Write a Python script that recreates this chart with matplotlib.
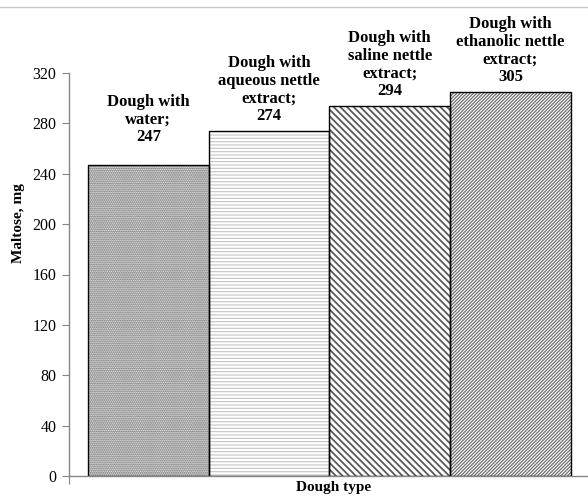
"""Maltose content in dough samples - bar chart with hatched bars."""

import matplotlib

matplotlib.use("Agg")
import matplotlib.pyplot as plt
from matplotlib.lines import Line2D

# data
categorias = [
    "Dough with\nwater;",
    "Dough with\naqueous nettle\nextract;",
    "Dough with\nsaline nettle\nextract;",
    "Dough with\nethanolic nettle\nextract;",
]
maltose = [247, 274, 294, 305]
y_ticks = [0, 40, 80, 120, 160, 200, 240, 280, 320]

# estilo de cada barra
hachuras = ["........", "-----", "\\" * 5, "/" * 10]
cores_hachura = ["#505050", "#c4c4c4", "#5a5a5a", "#707070"]
larguras_hachura = [1.0, 0.8, 1.3, 0.9]
deslocamento_rotulo = [14, 4.7, 4.7, 4.7]

plt.rcParams["font.family"] = ["Liberation Serif", "DejaVu Serif"]

fig = plt.figure(figsize=(5.88, 4.96), dpi=100)
ax = fig.add_axes([69 / 588, 1 - 476 / 496, 1 - 69 / 588, (476 - 73) / 496])

x = list(range(len(maltose)))
for i, valor in enumerate(maltose):
    plt.rcParams["hatch.linewidth"] = larguras_hachura[i]
    ax.bar(x[i], valor, width=1.0, color="white", edgecolor=cores_hachura[i],
           hatch=hachuras[i], linewidth=0)
ax.bar(x, maltose, width=1.0, color="none", edgecolor="black", linewidth=1.0)

for i, valor in enumerate(maltose):
    ax.annotate(f"{categorias[i]}\n{valor}", (x[i], valor),
                xytext=(0, deslocamento_rotulo[i]), textcoords="offset points",
                ha="center", va="bottom", fontsize=12, fontweight="bold",
                linespacing=1.15, annotation_clip=False)

ax.set_xlim(-0.5 - 0.157, 3.5 + 0.143)
ax.set_ylim(0, 320)
ax.set_yticks(y_ticks)
ax.tick_params(axis="y", direction="out", length=5, color="#868686",
               labelsize=11.5, pad=4)
ax.set_xticks([-0.5 - 0.157])
ax.set_xticklabels([""])
ax.tick_params(axis="x", direction="out", length=6, color="#868686")

for lado in ["top", "right"]:
    ax.spines[lado].set_visible(False)
for lado in ["left", "bottom"]:
    ax.spines[lado].set_color("#868686")
    ax.spines[lado].set_linewidth(1.0)

ax.set_ylabel("Maltose, mg", fontsize=11, fontweight="bold", va="center")
ax.yaxis.set_label_coords(-0.098, 0.628)
ax.set_xlabel("Dough type", fontsize=11, fontweight="bold", va="top")
ax.xaxis.set_label_coords(0.51, -0.012)

fig.add_artist(Line2D([0, 1], [1 - 7 / 496, 1 - 7 / 496], color="#c8c8c8",
                      linewidth=1.0, transform=fig.transFigure))

fig.savefig("out.png", dpi=100)
